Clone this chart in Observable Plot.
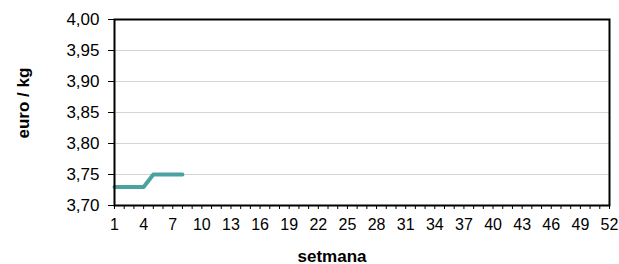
<!DOCTYPE html>
<html><head><meta charset="utf-8">
<script src="https://cdn.jsdelivr.net/npm/d3@7"></script>
<script src="https://cdn.jsdelivr.net/npm/@observablehq/plot@0.6"></script>
<style>
body{margin:0;background:#fff;font-family:"Liberation Sans",Arial,sans-serif;}
#chart svg g[aria-label="y-axis tick label"]{font-size:17px;}
#chart svg g[aria-label="x-axis tick label"]{font-size:16px;}
#chart svg g.axis-title{font-size:17px;font-weight:bold;}
</style></head><body><div id="chart"></div>
<script>
const weeks = [1,2,3,4,5,6,7,8];
const prices = [3.73,3.73,3.73,3.73,3.75,3.75,3.75,3.75];
const xTicks = d3.range(1,53);
const yTicks = [3.70,3.75,3.80,3.85,3.90,3.95,4.00];
const xTitle = ["setmana"];
const yTitle = ["euro / kg"];
const data = weeks.map((w,i)=>({week:w, price:prices[i]}));
const fmtY = d => d.toFixed(2).replace(".", ",");
const chart = Plot.plot({
  width:619, height:264,
  marginLeft:114, marginRight:10, marginTop:19, marginBottom:59,
  style:{fontFamily:'"Liberation Sans",Arial,sans-serif', color:"#000", background:"#fff"},
  x:{domain:[1,52]},
  y:{domain:[3.70,4.00]},
  marks:[
    Plot.gridY(yTicks.slice(1,-1), {stroke:"#d4d4d4", strokeOpacity:1}),
    Plot.axisY(yTicks, {tickFormat:fmtY, tickSize:6, tickPadding:9, label:null}),
    Plot.axisX(xTicks, {tickFormat:d => (d-1)%3===0 ? String(d) : "", tickSize:4, tickPadding:9, label:null}),
    Plot.line(data, {x:"week", y:"price", stroke:"#4aa3a0", strokeWidth:4, strokeLinecap:"round"}),
    Plot.frame({stroke:"#000", strokeWidth:2}),
    Plot.text(xTitle, {text:d=>d, frameAnchor:"bottom", dx:-30, dy:56, className:"axis-title"}),
    Plot.text(yTitle, {text:d=>d, frameAnchor:"left", rotate:-90, dx:-91, dy:26, className:"axis-title"})
  ]
});
document.getElementById("chart").append(chart);
</script></body></html>
